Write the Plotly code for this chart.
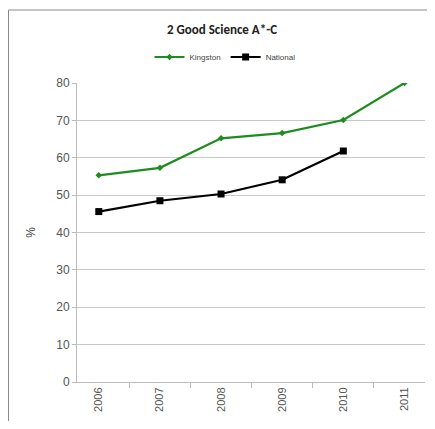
import plotly.graph_objects as go

years = ["2006", "2007", "2008", "2009", "2010", "2011"]
kingston = [55.3, 57.3, 65.2, 66.6, 70.1, 80.0]
national = [45.6, 48.5, 50.3, 54.1, 61.8]

# page body has a default 8px margin, so the figure is sized/offset for it
W, H = 419, 413
L, R, T, B = 69, 2, 75, 39
PW, PH = W - L - R, H - T - B

fig = go.Figure()
fig.add_trace(go.Scatter(
    x=years, y=kingston, name="Kingston", mode="lines+markers",
    line=dict(color="#1e8c1e", width=2.2),
    marker=dict(symbol="diamond", size=5, color="#1e8c1e"),
    cliponaxis=True,
))
fig.add_trace(go.Scatter(
    x=years[:len(national)], y=national, name="National", mode="lines+markers",
    line=dict(color="#000000", width=2.2),
    marker=dict(symbol="square", size=7, color="#000000"),
))

fig.update_layout(
    width=W, height=H,
    margin=dict(l=L, r=R, t=T, b=B, autoexpand=False),
    paper_bgcolor="white", plot_bgcolor="white",
    title=dict(text="<b>2 Good Science A*-C</b>", x=214 / W, xanchor="center",
               y=1 - 21 / H, yanchor="middle",
               font=dict(family="Carlito, Liberation Sans, sans-serif", size=13, color="#222")),
    legend=dict(orientation="h", x=217 / W, xref="container", xanchor="center",
                y=1 - 49 / H, yref="container", yanchor="middle",
                font=dict(family="Liberation Sans, sans-serif", size=8, color="#444"),
                itemwidth=30, bgcolor="rgba(0,0,0,0)"),
    showlegend=True,
    font=dict(family="Liberation Sans, sans-serif"),
    shapes=[dict(type="rect", xref="paper", yref="paper",
                 x0=(0.5 - L) / PW, x1=1.2, y0=-0.3, y1=1 + (T - 2) / PH,
                 line=dict(color="#8a8a8a", width=1), layer="below")],
)
fig.update_xaxes(
    type="category", tickson="boundaries", ticks="outside", ticklen=5,
    tickcolor="#bbbbbb", showgrid=False, showline=True, linecolor="#bbbbbb",
    tickangle=-90, tickfont=dict(size=11, color="#555"), automargin=False,
)
fig.update_yaxes(
    range=[0, 80], dtick=10, ticks="outside", ticklen=4, tickcolor="#bbbbbb",
    showgrid=True, gridcolor="#c8c8c8", gridwidth=1, showline=True, linecolor="#bbbbbb",
    zeroline=False, tickfont=dict(size=12, color="#555"), automargin=False,
    title=dict(text="%", font=dict(size=12, color="#444"), standoff=18),
)

fig.write_html("out.html")
